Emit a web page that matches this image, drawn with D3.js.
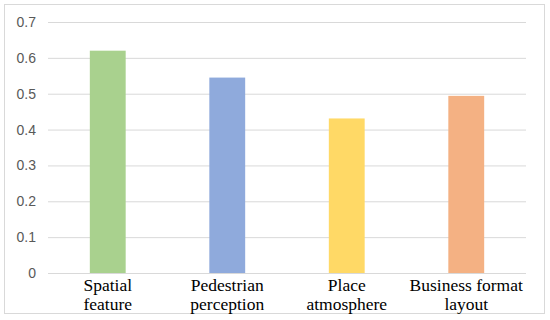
<!DOCTYPE html>
<meta charset="utf-8">
<style>
    body { margin: 0; background: #fff; }
    .tick text { font: 14px "Liberation Sans", Arial, sans-serif; fill: #595959; }
    .cat { font: 17.5px "Liberation Serif", "Times New Roman", serif; fill: #000; text-anchor: middle; }
</style>
<svg id="chart" width="550" height="320"></svg>
<script src="https://cdn.jsdelivr.net/npm/d3@7"></script>
<script>
    // data
    const categories = ["Spatial feature", "Pedestrian perception", "Place atmosphere", "Business format layout"];
    const labelLines = [["Spatial", "feature"], ["Pedestrian", "perception"], ["Place", "atmosphere"], ["Business format", "layout"]];
    const values = [0.62, 0.545, 0.431, 0.494];
    const colors = ["#a9d18e", "#8faadc", "#ffd966", "#f4b183"];
    const yTicks = [0, 0.1, 0.2, 0.3, 0.4, 0.5, 0.6, 0.7];

    const svg = d3.select("#chart");
    const plotLeft = 48, plotRight = 526, plotTop = 22, plotBottom = 273;

    // outer frame
    svg.append("rect")
        .attr("x", 4.5).attr("y", 4.5)
        .attr("width", 540).attr("height", 309)
        .attr("fill", "#fff").attr("stroke", "#d9d9d9");

    const x = d3.scaleBand()
        .domain(categories)
        .range([plotLeft, plotRight])
        .paddingInner(0.7)
        .paddingOuter(0.35);

    const y = d3.scaleLinear().domain([0, 0.7]).range([plotBottom, plotTop]);

    const yAxis = svg.append("g")
        .attr("transform", `translate(${plotLeft},0)`)
        .call(d3.axisLeft(y).tickValues(yTicks)
            .tickFormat(d => d === 0 ? "0" : d3.format(".1f")(d))
            .tickSize(-(plotRight - plotLeft)).tickPadding(12));
    yAxis.select(".domain").remove();
    yAxis.selectAll(".tick line").attr("stroke", "#d9d9d9");

    svg.selectAll("rect.bar")
        .data(values)
        .join("rect")
        .attr("class", "bar")
        .attr("x", (d, i) => x(categories[i]))
        .attr("y", d => y(d))
        .attr("width", x.bandwidth())
        .attr("height", d => y(0) - y(d))
        .attr("fill", (d, i) => colors[i]);

    const labels = svg.selectAll("text.cat")
        .data(labelLines)
        .join("text")
        .attr("class", "cat")
        .attr("x", (d, i) => x(categories[i]) + x.bandwidth() / 2)
        .attr("y", 291);
    labels.selectAll("tspan")
        .data(d => d)
        .join("tspan")
        .attr("x", function() { return this.parentNode.getAttribute("x"); })
        .attr("dy", (d, i) => i === 0 ? 0 : 19)
        .text(d => d);
</script>
